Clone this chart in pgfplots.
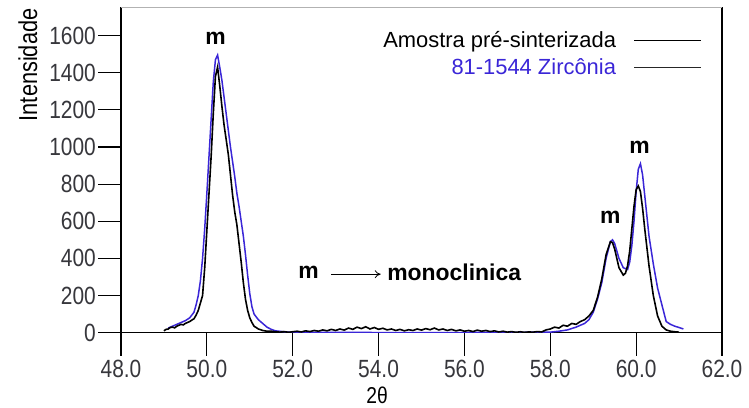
\documentclass[border=0pt]{standalone}
\usepackage{pgfplots}
\pgfplotsset{compat=1.18}
\usepackage{fontspec}
\setmainfont{Liberation Sans}
\newfontfamily\condensed{Liberation Sans}[FakeStretch=0.84]
\usetikzlibrary{arrows.meta}
\definecolor{zblue}{RGB}{58,38,215}
\definecolor{lblgray}{RGB}{55,55,60}

\begin{document}
\begin{tikzpicture}
\begin{axis}[
    scale only axis,
    width=601bp, height=325bp,
    xmin=48, xmax=62, ymin=0, ymax=1750,
    xtick={48,50,...,62},
    xticklabels={48.0,50.0,52.0,54.0,56.0,58.0,60.0,62.0},
    ytick={0,200,...,1600},
    yticklabels={0,200,400,600,800,1000,1200,1400,1600},
    xtick pos=bottom, ytick pos=left,
    tick align=outside,
    major tick length=23bp,
    axis line style={black, line width=1.2bp},
    tick style={black, line width=1.2bp},
    tick label style={text=lblgray, font=\condensed\fontsize{25}{28}\selectfont},
    yticklabel style={inner sep=2bp},
    xticklabel style={yshift=-1bp},
    xlabel={2θ},
    ylabel={Intensidade},
    xlabel style={font=\condensed\fontsize{23}{25}\selectfont,
        at={(axis description cs:0.426,-0.192)}, anchor=center},
    ylabel style={font=\condensed\fontsize{26}{28}\selectfont,
        at={(axis description cs:-0.155,0.824)}, anchor=center},
    legend cell align=right,
    legend plot pos=right,
    legend image code/.code={\draw[#1] (0bp,0bp) -- (67bp,0bp);},
    legend style={draw=none, fill=none, at={(0.972,0.94)}, anchor=north east,
        row sep=6bp, /tikz/column sep=16bp, font=\fontsize{22}{25}\selectfont},
]
% 81-1544 Zirconia (reference pattern)
\addplot[zblue, line width=1.5bp, forget plot] coordinates {
(49.10,25) (49.20,35) (49.30,45) (49.40,55) (49.50,65) (49.60,80)
(49.70,110) (49.75,150) (49.80,200) (49.85,280) (49.90,400) (49.95,560)
(50.00,750) (50.05,950) (50.10,1150) (50.15,1350) (50.20,1470) (50.25,1495)
(50.30,1430) (50.35,1360) (50.40,1270) (50.45,1180) (50.50,1090) (50.55,1000)
(50.60,920) (50.65,840) (50.70,750) (50.75,680) (50.80,600) (50.85,520)
(50.90,420) (50.95,310) (51.00,210) (51.05,140) (51.10,100) (51.20,70)
(51.30,50) (51.40,30) (51.50,18) (51.60,10) (51.80,5) (52.00,2)
(54.00,1) (56.00,1) (58.00,3) (58.20,8) (58.40,15) (58.60,30)
(58.80,50) (58.90,70) (59.00,110) (59.10,180) (59.20,270) (59.30,400)
(59.40,490) (59.45,500) (59.50,480) (59.55,440) (59.60,400) (59.70,350)
(59.80,340) (59.85,380) (59.90,470) (59.95,600) (60.00,760) (60.05,880)
(60.10,910) (60.15,850) (60.20,740) (60.30,520) (60.40,370) (60.50,240)
(60.60,150) (60.70,60) (60.80,45) (60.90,35) (61.00,28) (61.10,20)
};
% Amostra pre-sinterizada (measured)
\addplot[black, line width=1.6bp, forget plot] coordinates {
(49.00,10) (49.05,18) (49.10,20) (49.15,28) (49.20,30) (49.25,26)
(49.30,35) (49.35,40) (49.40,45) (49.45,42) (49.50,50) (49.55,55)
(49.60,60) (49.65,68) (49.70,75) (49.75,95) (49.80,120) (49.85,160)
(49.90,200) (49.95,350) (50.00,550) (50.05,750) (50.10,950) (50.15,1180)
(50.20,1380) (50.25,1430) (50.30,1330) (50.35,1220) (50.40,1120) (50.45,1040)
(50.50,960) (50.55,850) (50.60,740) (50.65,650) (50.70,580) (50.75,480)
(50.80,380) (50.85,270) (50.90,180) (50.95,120) (51.00,80) (51.05,55)
(51.10,35) (51.20,20) (51.30,12) (51.40,8)
(51.5,8) (51.6,5) (51.7,3) (51.8,6) (51.9,2) (52.0,5) (52.1,8) (52.2,4)
(52.3,10) (52.4,6) (52.5,12) (52.6,8) (52.7,15) (52.8,10) (52.9,18) (53.0,12)
(53.1,20) (53.2,14) (53.3,25) (53.4,18) (53.5,30) (53.6,22) (53.7,32) (53.8,20)
(53.9,28) (54.0,18) (54.1,24) (54.2,15) (54.3,20) (54.4,12) (54.5,18) (54.6,10)
(54.7,16) (54.8,12) (54.9,20) (55.0,14) (55.1,22) (55.2,16) (55.3,25) (55.4,15)
(55.5,20) (55.6,12) (55.7,18) (55.8,10) (55.9,15) (56.0,8) (56.1,12) (56.2,6)
(56.3,14) (56.4,8) (56.5,12) (56.6,6) (56.7,10) (56.8,4) (56.9,8) (57.0,3)
(57.1,6) (57.2,2) (57.3,5) (57.4,2) (57.5,4) (57.6,3) (57.7,6) (57.8,4)
(57.9,15) (58.0,20) (58.1,30) (58.2,25) (58.3,40) (58.4,35) (58.5,50) (58.6,45)
(58.7,60) (58.8,70) (58.9,90) (59.0,120) (59.1,190) (59.2,290) (59.3,420)
(59.4,490) (59.45,485) (59.5,450) (59.55,400) (59.6,350) (59.7,310) (59.75,320)
(59.8,360) (59.85,440) (59.9,560) (59.95,680) (60.0,770) (60.05,790) (60.1,760)
(60.15,670) (60.2,560) (60.3,360) (60.4,200) (60.5,90) (60.6,35) (60.7,15)
(60.8,8) (60.9,5) (61.0,3)
};
\addlegendimage{black, line width=1bp}
\addlegendentry{Amostra pré-sinterizada}
\addlegendimage{black!85, line width=1bp}
\addlegendentry{\textcolor{zblue}{81-1544 Zircônia}}
% top frame edge is grey in the reference
\draw[gray!60, line width=1.5bp] (rel axis cs:0,1) -- (rel axis cs:1,1);
% annotations
\node[font=\bfseries\fontsize{23}{26}\selectfont] at (axis cs:50.2,1585) {m};
\node[font=\bfseries\fontsize{23}{26}\selectfont] at (axis cs:59.4,620) {m};
\node[font=\bfseries\fontsize{23}{26}\selectfont] at (axis cs:60.08,1000) {m};
\node[font=\bfseries\fontsize{23}{26}\selectfont] at (axis cs:52.37,325) {m};
\draw[-{To[length=6bp,width=8bp]}, line width=0.8bp] (axis cs:52.9,315) -- (axis cs:54.05,315);
\node[font=\bfseries\fontsize{23}{26}\selectfont, anchor=west, inner sep=0pt] at (axis cs:54.2,325) {monoclinica};
\end{axis}
% page frame matching the reference margins around the axis box
\pgfresetboundingbox
\useasboundingbox (-121bp,-75bp) rectangle (628bp,332.7bp);
\end{tikzpicture}
\end{document}
